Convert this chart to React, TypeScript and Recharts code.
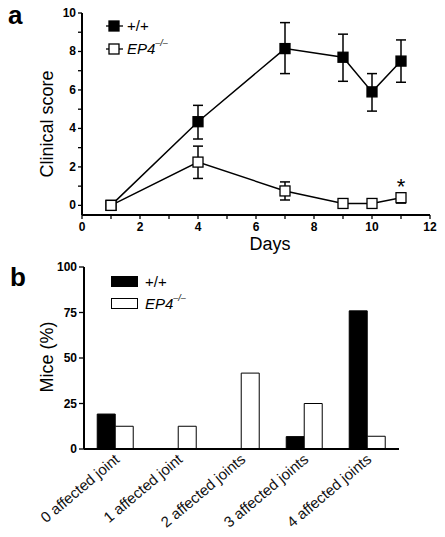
import React from 'react';
import {
  LineChart, Line, BarChart, Bar, XAxis, YAxis, ErrorBar, LabelList,
} from 'recharts';

// panel a: clinical score by day
const days = [1, 4, 7, 9, 10, 11];
const wtScore = [0, 4.35, 8.15, 7.7, 5.9, 7.5];
const wtLow = [0, 3.45, 6.85, 6.45, 4.9, 6.4];
const wtHigh = [0, 5.2, 9.5, 8.9, 6.85, 8.6];
const koScore = [0, 2.25, 0.75, 0.1, 0.1, 0.4];
const koLow = [0, 1.4, 0.28, 0.1, 0.1, 0.12];
const koHigh = [0, 3.08, 1.22, 0.1, 0.1, 0.64];
const dayTicks = [0, 1, 2, 3, 4, 5, 6, 7, 8, 9, 10, 11, 12];
const scoreTicks = [0, 1, 2, 3, 4, 5, 6, 7, 8, 9, 10];

// panel b: affected joints
const jointLabels = ['0 affected joint', '1 affected joint', '2 affected joints', '3 affected joints', '4 affected joints'];
const wtPercent = [19.2, 0, 0, 6.8, 75.9];
const koPercent = [12.5, 12.5, 41.7, 25, 7];
const percentTicks = [0, 25, 50, 75, 100];

const FONT = '"Liberation Sans", Arial, Helvetica, sans-serif';

const scoreData = days.map((d, i) => ({
  day: d,
  wt: wtScore[i],
  wtErr: [wtScore[i] - wtLow[i], wtHigh[i] - wtScore[i]],
  ko: koScore[i],
  koErr: [koScore[i] - koLow[i], koHigh[i] - koScore[i]],
}));

const jointData = jointLabels.map((name, i) => ({ name, wt: wtPercent[i], ko: koPercent[i] }));

const tickStyle = { fontFamily: FONT, fontSize: 12, fontWeight: 700, fill: '#000' };

function SquareDot(props: any) {
  const { cx, cy, fill } = props;
  if (cx == null || cy == null) return null;
  return <rect x={cx - 5} y={cy - 5} width={10} height={10} fill={fill} stroke="#000" strokeWidth={1.3} />;
}

function EvenTick(props: any) {
  const { x, y, payload, vertical } = props;
  if (payload.value % 2 !== 0) return null;
  if (vertical) {
    return (
      <text x={x} y={y} dy={4} textAnchor="end" style={tickStyle}>{payload.value}</text>
    );
  }
  return (
    <text x={x} y={y} dy={10} textAnchor="middle" style={tickStyle}>{payload.value}</text>
  );
}

function CategoryTick(props: any) {
  const { x, y, payload } = props;
  return (
    <text
      x={x + 5}
      y={y + 4}
      textAnchor="end"
      transform={`rotate(-40, ${x + 5}, ${y + 4})`}
      style={{ fontFamily: FONT, fontSize: 15, fill: '#111' }}
    >
      {payload.value}
    </text>
  );
}

function Sup() {
  return <sup style={{ fontSize: 9, fontStyle: 'italic', position: 'relative', top: -2 }}>–/–</sup>;
}

function LineLegend() {
  const row = (filled: boolean, label: React.ReactNode) => (
    <div style={{ display: 'flex', alignItems: 'center', height: 23 }}>
      <svg width={17} height={12} style={{ marginRight: 4 }}>
        <line x1={0} y1={6} x2={17} y2={6} stroke="#000" strokeWidth={1.3} />
        <rect x={3} y={1} width={10} height={10} fill={filled ? '#000' : '#fff'} stroke="#000" strokeWidth={1.3} />
      </svg>
      <span>{label}</span>
    </div>
  );
  return (
    <div style={{ fontFamily: FONT, fontSize: 15, color: '#000', lineHeight: 1 }}>
      {row(true, '+/+')}
      {row(false, <><i>EP4</i><Sup /></>)}
    </div>
  );
}

function BarLegend() {
  const row = (filled: boolean, label: React.ReactNode) => (
    <div style={{ display: 'flex', alignItems: 'center', height: 22 }}>
      <svg width={27} height={11} style={{ marginRight: 7 }}>
        <rect x={0.5} y={0.5} width={26} height={10} fill={filled ? '#000' : '#fff'} stroke="#000" strokeWidth={1} />
      </svg>
      <span>{label}</span>
    </div>
  );
  return (
    <div style={{ fontFamily: FONT, fontSize: 15, color: '#000', lineHeight: 1 }}>
      {row(true, '+/+')}
      {row(false, <><i>EP4</i><Sup /></>)}
    </div>
  );
}

function Asterisk(props: any) {
  const { x, y, index } = props;
  if (index !== days.length - 1) return null;
  return (
    <text x={x} y={y - 4} textAnchor="middle" style={{ fontFamily: FONT, fontSize: 22, fill: '#000' }}>*</text>
  );
}

const abs = (left: number, top: number): React.CSSProperties => ({ position: 'absolute', left, top });

export default function App() {
  return (
    <div style={{ position: 'absolute', left: 0, top: 0, width: 445, height: 537, background: '#fff', fontFamily: FONT }}>
      <div style={abs(0, 0)}>
        <LineChart width={445} height={262} data={scoreData} margin={{ top: 13, right: 15, left: 0, bottom: 0 }}>
          <XAxis
            dataKey="day"
            type="number"
            domain={[0, 12]}
            ticks={dayTicks}
            interval={0}
            height={47}
            tick={<EvenTick />}
            tickSize={4}
            axisLine={{ stroke: '#000', strokeWidth: 2 }}
            tickLine={{ stroke: '#000', strokeWidth: 1.3 }}
          />
          <YAxis
            type="number"
            domain={[-0.5, 10]}
            ticks={scoreTicks}
            interval={0}
            width={82}
            tick={<EvenTick vertical />}
            tickSize={4}
            axisLine={{ stroke: '#000', strokeWidth: 2 }}
            tickLine={{ stroke: '#000', strokeWidth: 1.3 }}
          />
          <Line
            dataKey="wt"
            stroke="#000"
            strokeWidth={1.5}
            fill="#000"
            dot={<SquareDot fill="#000" />}
            activeDot={false}
            isAnimationActive={false}
          >
            <ErrorBar dataKey="wtErr" width={5} stroke="#000" strokeWidth={1.5} direction="y" />
          </Line>
          <Line
            dataKey="ko"
            stroke="#000"
            strokeWidth={1.5}
            fill="#fff"
            dot={<SquareDot fill="#fff" />}
            activeDot={false}
            isAnimationActive={false}
          >
            <ErrorBar dataKey="koErr" width={5} stroke="#000" strokeWidth={1.5} direction="y" />
            <LabelList dataKey="ko" content={<Asterisk />} />
          </Line>
        </LineChart>
      </div>

      <div style={abs(0, 255)}>
        <BarChart
          width={445}
          height={282}
          data={jointData}
          margin={{ top: 12, right: 46, left: 0, bottom: 0 }}
          barCategoryGap="21%"
          barGap={0}
        >
          <XAxis
            dataKey="name"
            interval={0}
            height={88}
            tick={<CategoryTick />}
            tickLine={false}
            axisLine={{ stroke: '#000', strokeWidth: 2 }}
          />
          <YAxis
            type="number"
            domain={[0, 100]}
            ticks={percentTicks}
            interval={0}
            width={84}
            tick={tickStyle}
            tickSize={5}
            axisLine={{ stroke: '#000', strokeWidth: 2 }}
            tickLine={{ stroke: '#000', strokeWidth: 1.3 }}
          />
          <Bar dataKey="wt" fill="#000" stroke="#000" strokeWidth={1} isAnimationActive={false} />
          <Bar dataKey="ko" fill="#fff" stroke="#000" strokeWidth={1} isAnimationActive={false} />
        </BarChart>
      </div>

      <div style={{ ...abs(8, 2), fontSize: 26, fontWeight: 700, lineHeight: 1 }}>a</div>
      <div style={{ ...abs(10, 264), fontSize: 26, fontWeight: 700, lineHeight: 1 }}>b</div>

      <div style={{ ...abs(47, 124), fontSize: 18, transform: 'translate(-50%, -50%) rotate(-90deg)', whiteSpace: 'nowrap' }}>
        Clinical score
      </div>
      <div style={{ ...abs(270, 244), fontSize: 18, transform: 'translate(-50%, -50%)', whiteSpace: 'nowrap' }}>
        Days
      </div>
      <div style={{ ...abs(47, 357), fontSize: 18, transform: 'translate(-50%, -50%) rotate(-90deg)', whiteSpace: 'nowrap' }}>
        Mice (%)
      </div>

      <div style={abs(106, 14)}><LineLegend /></div>
      <div style={abs(111, 270)}><BarLegend /></div>
    </div>
  );
}
